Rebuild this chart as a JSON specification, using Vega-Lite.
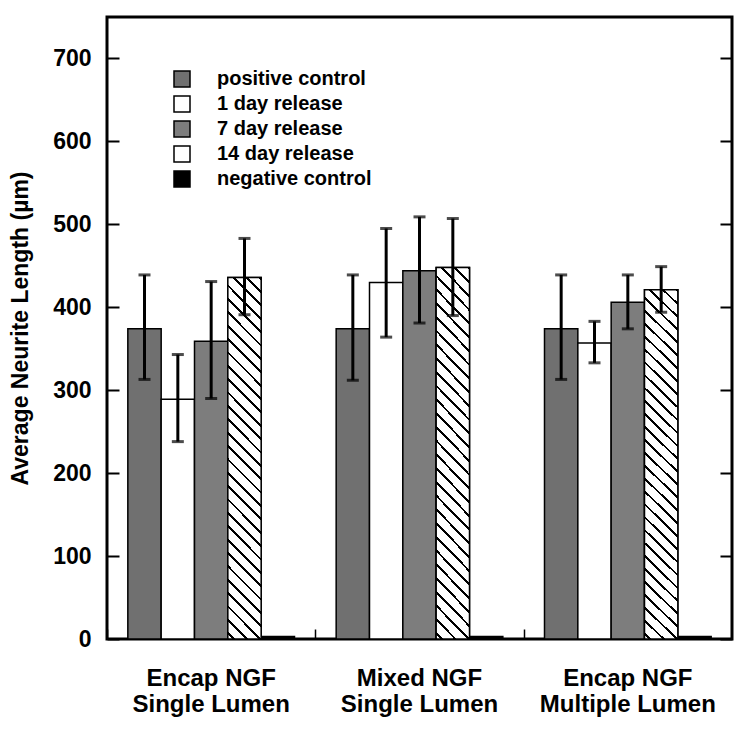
{
  "$schema": "https://vega.github.io/schema/vega-lite/v6.json",
  "width": 625,
  "height": 622,
  "autosize": {"type": "none"},
  "padding": {"left": 107, "top": 17, "right": 18, "bottom": 93},
  "background": "white",
  "config": {
    "font": "Liberation Sans",
    "view": {"stroke": "black", "strokeWidth": 3},
    "axis": {"domain": false, "grid": false, "labelColor": "black", "labelFont": "Liberation Sans", "labelFontWeight": "bold", "tickColor": "black", "titleColor": "black", "titleFont": "Liberation Sans", "titleFontWeight": "bold"}
  },
  "data": {"values": [
    {"group": "Encap NGF|Single Lumen", "series": "positive control", "mean": 374, "lo": 313, "hi": 439},
    {"group": "Encap NGF|Single Lumen", "series": "1 day release", "mean": 289, "lo": 238, "hi": 343},
    {"group": "Encap NGF|Single Lumen", "series": "7 day release", "mean": 359, "lo": 290, "hi": 431},
    {"group": "Encap NGF|Single Lumen", "series": "14 day release", "mean": 436, "lo": 391, "hi": 483},
    {"group": "Encap NGF|Single Lumen", "series": "negative control", "mean": 3},
    {"group": "Mixed NGF|Single Lumen", "series": "positive control", "mean": 374, "lo": 312, "hi": 439},
    {"group": "Mixed NGF|Single Lumen", "series": "1 day release", "mean": 430, "lo": 364, "hi": 495},
    {"group": "Mixed NGF|Single Lumen", "series": "7 day release", "mean": 444, "lo": 381, "hi": 509},
    {"group": "Mixed NGF|Single Lumen", "series": "14 day release", "mean": 448, "lo": 390, "hi": 507},
    {"group": "Mixed NGF|Single Lumen", "series": "negative control", "mean": 3},
    {"group": "Encap NGF|Multiple Lumen", "series": "positive control", "mean": 374, "lo": 313, "hi": 439},
    {"group": "Encap NGF|Multiple Lumen", "series": "1 day release", "mean": 357, "lo": 333, "hi": 383},
    {"group": "Encap NGF|Multiple Lumen", "series": "7 day release", "mean": 406, "lo": 374, "hi": 439},
    {"group": "Encap NGF|Multiple Lumen", "series": "14 day release", "mean": 421, "lo": 394, "hi": 449},
    {"group": "Encap NGF|Multiple Lumen", "series": "negative control", "mean": 3}
  ]},
  "encoding": {
    "xOffset": {"field": "series", "type": "nominal", "sort": ["positive control", "1 day release", "7 day release", "14 day release", "negative control"], "scale": {"paddingInner": 0, "paddingOuter": 0}}
  },
  "layer": [
    {
      "mark": {"type": "bar", "stroke": "black", "strokeWidth": 1.5},
      "encoding": {
        "x": {"field": "group", "type": "nominal", "sort": ["Encap NGF|Single Lumen", "Mixed NGF|Single Lumen", "Encap NGF|Multiple Lumen"],
          "scale": {"paddingInner": 0.2, "paddingOuter": 0.1},
          "axis": {"orient": "bottom", "title": null, "labelExpr": "split(datum.label, '|')", "labelAngle": 0, "labelFontSize": 24, "labelLineHeight": 25.6, "labelPadding": 27.5, "ticks": false}},
        "y": {"field": "mean", "type": "quantitative", "scale": {"domain": [0, 750], "nice": false},
          "axis": {"orient": "left", "values": [0, 100, 200, 300, 400, 500, 600, 700], "labelFontSize": 23, "labelPadding": 28, "tickSize": -12, "tickWidth": 2, "title": "Average Neurite Length (µm)", "titleFontSize": 23, "titlePadding": 20}},
        "fill": {"field": "series", "type": "nominal",
          "scale": {"domain": ["positive control", "1 day release", "7 day release", "14 day release", "negative control"],
            "range": ["#707070", "white", "#7d7d7d", "white", "black"]},
          "legend": {"orient": "none", "legendX": 65, "legendY": 52, "title": null, "symbolType": "square", "symbolSize": 256, "symbolOpacity": 1, "labelFont": "Liberation Sans", "labelFontSize": 20, "labelFontWeight": "bold", "labelColor": "black", "labelOffset": 25, "rowPadding": 3, "padding": 0,
            "encode": {"symbols": {
              "stroke": {"value": "black"},
              "strokeWidth": {"value": 1.5}
            }}}
        }
      }
    },
    {
      "transform": [{"filter": "datum.series === '14 day release'"}],
      "mark": {"type": "bar", "stroke": "black", "strokeWidth": 1.5,
        "fill": {"gradient": "linear", "x1": 1, "y1": 0, "x2": 0.898, "y2": 1.1, "stops": [
          {"offset": 0, "color": "black"}, {"offset": 0.007, "color": "black"}, {"offset": 0.007, "color": "white"}, {"offset": 0.0333, "color": "white"},
          {"offset": 0.0333, "color": "black"}, {"offset": 0.0403, "color": "black"}, {"offset": 0.0403, "color": "white"}, {"offset": 0.0667, "color": "white"},
          {"offset": 0.0667, "color": "black"}, {"offset": 0.0737, "color": "black"}, {"offset": 0.0737, "color": "white"}, {"offset": 0.1, "color": "white"},
          {"offset": 0.1, "color": "black"}, {"offset": 0.107, "color": "black"}, {"offset": 0.107, "color": "white"}, {"offset": 0.1333, "color": "white"},
          {"offset": 0.1333, "color": "black"}, {"offset": 0.1403, "color": "black"}, {"offset": 0.1403, "color": "white"}, {"offset": 0.1667, "color": "white"},
          {"offset": 0.1667, "color": "black"}, {"offset": 0.1737, "color": "black"}, {"offset": 0.1737, "color": "white"}, {"offset": 0.2, "color": "white"},
          {"offset": 0.2, "color": "black"}, {"offset": 0.207, "color": "black"}, {"offset": 0.207, "color": "white"}, {"offset": 0.2333, "color": "white"},
          {"offset": 0.2333, "color": "black"}, {"offset": 0.2403, "color": "black"}, {"offset": 0.2403, "color": "white"}, {"offset": 0.2667, "color": "white"},
          {"offset": 0.2667, "color": "black"}, {"offset": 0.2737, "color": "black"}, {"offset": 0.2737, "color": "white"}, {"offset": 0.3, "color": "white"},
          {"offset": 0.3, "color": "black"}, {"offset": 0.307, "color": "black"}, {"offset": 0.307, "color": "white"}, {"offset": 0.3333, "color": "white"},
          {"offset": 0.3333, "color": "black"}, {"offset": 0.3403, "color": "black"}, {"offset": 0.3403, "color": "white"}, {"offset": 0.3667, "color": "white"},
          {"offset": 0.3667, "color": "black"}, {"offset": 0.3737, "color": "black"}, {"offset": 0.3737, "color": "white"}, {"offset": 0.4, "color": "white"},
          {"offset": 0.4, "color": "black"}, {"offset": 0.407, "color": "black"}, {"offset": 0.407, "color": "white"}, {"offset": 0.4333, "color": "white"},
          {"offset": 0.4333, "color": "black"}, {"offset": 0.4403, "color": "black"}, {"offset": 0.4403, "color": "white"}, {"offset": 0.4667, "color": "white"},
          {"offset": 0.4667, "color": "black"}, {"offset": 0.4737, "color": "black"}, {"offset": 0.4737, "color": "white"}, {"offset": 0.5, "color": "white"},
          {"offset": 0.5, "color": "black"}, {"offset": 0.507, "color": "black"}, {"offset": 0.507, "color": "white"}, {"offset": 0.5333, "color": "white"},
          {"offset": 0.5333, "color": "black"}, {"offset": 0.5403, "color": "black"}, {"offset": 0.5403, "color": "white"}, {"offset": 0.5667, "color": "white"},
          {"offset": 0.5667, "color": "black"}, {"offset": 0.5737, "color": "black"}, {"offset": 0.5737, "color": "white"}, {"offset": 0.6, "color": "white"},
          {"offset": 0.6, "color": "black"}, {"offset": 0.607, "color": "black"}, {"offset": 0.607, "color": "white"}, {"offset": 0.6333, "color": "white"},
          {"offset": 0.6333, "color": "black"}, {"offset": 0.6403, "color": "black"}, {"offset": 0.6403, "color": "white"}, {"offset": 0.6667, "color": "white"},
          {"offset": 0.6667, "color": "black"}, {"offset": 0.6737, "color": "black"}, {"offset": 0.6737, "color": "white"}, {"offset": 0.7, "color": "white"},
          {"offset": 0.7, "color": "black"}, {"offset": 0.707, "color": "black"}, {"offset": 0.707, "color": "white"}, {"offset": 0.7333, "color": "white"},
          {"offset": 0.7333, "color": "black"}, {"offset": 0.7403, "color": "black"}, {"offset": 0.7403, "color": "white"}, {"offset": 0.7667, "color": "white"},
          {"offset": 0.7667, "color": "black"}, {"offset": 0.7737, "color": "black"}, {"offset": 0.7737, "color": "white"}, {"offset": 0.8, "color": "white"},
          {"offset": 0.8, "color": "black"}, {"offset": 0.807, "color": "black"}, {"offset": 0.807, "color": "white"}, {"offset": 0.8333, "color": "white"},
          {"offset": 0.8333, "color": "black"}, {"offset": 0.8403, "color": "black"}, {"offset": 0.8403, "color": "white"}, {"offset": 0.8667, "color": "white"},
          {"offset": 0.8667, "color": "black"}, {"offset": 0.8737, "color": "black"}, {"offset": 0.8737, "color": "white"}, {"offset": 0.9, "color": "white"},
          {"offset": 0.9, "color": "black"}, {"offset": 0.907, "color": "black"}, {"offset": 0.907, "color": "white"}, {"offset": 0.9333, "color": "white"},
          {"offset": 0.9333, "color": "black"}, {"offset": 0.9403, "color": "black"}, {"offset": 0.9403, "color": "white"}, {"offset": 0.9667, "color": "white"},
          {"offset": 0.9667, "color": "black"}, {"offset": 0.9737, "color": "black"}, {"offset": 0.9737, "color": "white"}, {"offset": 1, "color": "white"}
        ]}},
      "encoding": {
        "x": {"field": "group", "type": "nominal", "sort": ["Encap NGF|Single Lumen", "Mixed NGF|Single Lumen", "Encap NGF|Multiple Lumen"], "axis": null},
        "y": {"field": "mean", "type": "quantitative", "scale": {"domain": [0, 750], "nice": false},
          "axis": {"orient": "right", "labels": false, "title": null, "values": [0, 100, 200, 300, 400, 500, 600, 700], "tickSize": -12, "tickWidth": 2}}
      }
    },
    {
      "transform": [{"filter": "isValid(datum.lo)"}],
      "mark": {"type": "rule", "strokeWidth": 3, "color": "black"},
      "encoding": {
        "x": {"field": "group", "type": "nominal", "sort": ["Encap NGF|Single Lumen", "Mixed NGF|Single Lumen", "Encap NGF|Multiple Lumen"],
          "axis": {"orient": "bottom", "labels": false, "title": null, "domain": false, "bandPosition": 0, "tickOffset": -20.8, "tickSize": -10, "tickWidth": 1.5}},
        "y": {"field": "lo", "type": "quantitative", "scale": {"domain": [0, 750], "nice": false}, "axis": null},
        "y2": {"field": "hi"}
      }
    },
    {
      "transform": [{"filter": "isValid(datum.lo)"}],
      "mark": {"type": "tick", "thickness": 3, "size": 12, "color": "black", "orient": "horizontal"},
      "encoding": {
        "x": {"field": "group", "type": "nominal", "sort": ["Encap NGF|Single Lumen", "Mixed NGF|Single Lumen", "Encap NGF|Multiple Lumen"], "axis": null},
        "y": {"field": "lo", "type": "quantitative", "scale": {"domain": [0, 750], "nice": false}, "axis": null}
      }
    },
    {
      "transform": [{"filter": "isValid(datum.hi)"}],
      "mark": {"type": "tick", "thickness": 3, "size": 12, "color": "black", "orient": "horizontal"},
      "encoding": {
        "x": {"field": "group", "type": "nominal", "sort": ["Encap NGF|Single Lumen", "Mixed NGF|Single Lumen", "Encap NGF|Multiple Lumen"], "axis": null},
        "y": {"field": "hi", "type": "quantitative", "scale": {"domain": [0, 750], "nice": false}, "axis": null}
      }
    }
  ],
  "resolve": {"axis": {"y": "independent", "x": "independent"}}
}
